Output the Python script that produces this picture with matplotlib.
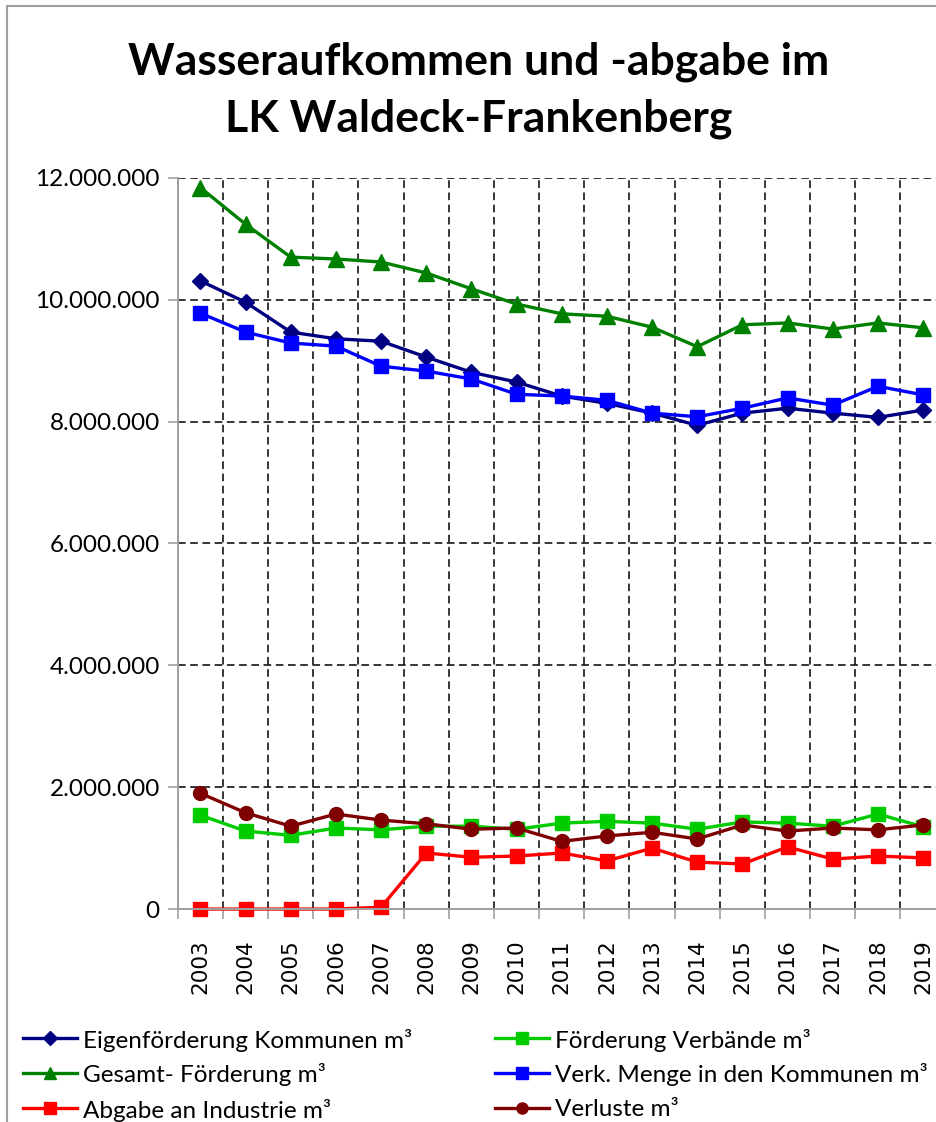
import matplotlib
matplotlib.use("Agg")
import matplotlib.pyplot as plt
import matplotlib.ticker as mticker
from matplotlib.patches import Rectangle
from matplotlib.lines import Line2D

# data (m³)
years = list(range(2003, 2020))
eigen_kommunen = [10.31, 9.96, 9.47, 9.36, 9.32, 9.06, 8.81, 8.65, 8.42, 8.30, 8.14, 7.94, 8.14, 8.22, 8.14, 8.07, 8.19]
foerd_verbaende = [1.54, 1.28, 1.21, 1.33, 1.30, 1.36, 1.36, 1.31, 1.41, 1.44, 1.41, 1.31, 1.43, 1.41, 1.36, 1.56, 1.35]
gesamt = [11.84, 11.24, 10.70, 10.67, 10.62, 10.44, 10.18, 9.93, 9.77, 9.73, 9.55, 9.23, 9.59, 9.62, 9.52, 9.62, 9.54]
verk_menge = [9.78, 9.47, 9.29, 9.24, 8.91, 8.83, 8.70, 8.45, 8.42, 8.35, 8.14, 8.08, 8.22, 8.39, 8.27, 8.58, 8.44]
abgabe_ind = [0.0, 0.0, 0.0, 0.0, 0.03, 0.92, 0.85, 0.87, 0.92, 0.79, 1.00, 0.77, 0.74, 1.02, 0.82, 0.87, 0.84]
verluste = [1.90, 1.58, 1.36, 1.56, 1.46, 1.40, 1.31, 1.33, 1.11, 1.20, 1.26, 1.15, 1.38, 1.28, 1.33, 1.30, 1.38]

labels = ["Eigenförderung Kommunen m³", "Förderung Verbände m³", "Gesamt- Förderung m³",
          "Verk. Menge in den Kommunen m³", "Abgabe an Industrie m³", "Verluste m³"]
colors = ["#000080", "#00CC00", "#008000", "#0000FF", "#FF0000", "#7F0000"]
markers = ["D", "s", "^", "s", "s", "o"]
msizes = [8, 10, 11, 10, 10, 10]
series = [eigen_kommunen, foerd_verbaende, gesamt, verk_menge, abgabe_ind, verluste]

plt.rcParams['font.family'] = ['Lato', 'DejaVu Sans']

W, H = 936, 1122
fig = plt.figure(figsize=(W / 100, H / 100), dpi=100)
ax = fig.add_axes([0.190, 0.1898, 0.8203, 0.6516])

for vals, lab, c, m, ms in zip(series, labels, colors, markers, msizes):
    ax.plot(years, [v * 1e6 for v in vals], color=c, marker=m, markersize=ms,
            linewidth=2.4, label=lab, clip_on=False)

ax.set_xlim(2002.5, 2019.5)
ax.set_ylim(0, 12e6)
ax.set_yticks(range(0, 12000001, 2000000))
ax.yaxis.set_major_formatter(mticker.FuncFormatter(lambda v, p: f"{int(v):,}".replace(",", ".")))
ax.set_xticks(years)
ax.set_xticklabels([str(y) for y in years], rotation=90, fontfamily="DejaVu Sans", fontsize=15.5)
ax.set_xticks([y + 0.5 for y in range(2002, 2019)], minor=True)
ax.tick_params(axis="x", which="major", length=0, pad=22)
ax.tick_params(axis="x", which="minor", length=7, color="#A0A0A0", width=1.2)
ax.tick_params(axis="y", length=7, color="#A0A0A0", width=1.2, labelsize=17.5, pad=6)

ax.grid(True, axis="y", which="major", color="black", linestyle=(0, (5, 3)), linewidth=1.1)
ax.grid(True, axis="x", which="minor", color="black", linestyle=(0, (5, 3)), linewidth=1.1)
ax.set_axisbelow(True)
for s in ["top", "right"]:
    ax.spines[s].set_visible(False)
for s in ["left", "bottom"]:
    ax.spines[s].set_color("#A0A0A0")
    ax.spines[s].set_linewidth(1.4)

fig.text(0.511, 0.920, "Wasseraufkommen und -abgabe im\nLK Waldeck-Frankenberg",
         ha="center", va="center", fontsize=32, fontweight="bold", linespacing=1.5)

# legend drawn by hand: two columns, three rows
leg_msizes = [7, 8, 9, 8, 8, 8]
col_x = [23, 495]
row_y = [1038, 1073, 1108]
for i, (lab, c, m) in enumerate(zip(labels, colors, markers)):
    x0 = col_x[i % 2]
    y = 1 - row_y[i // 2] / H
    fig.lines.append(Line2D([x0 / W, (x0 + 54) / W], [y, y], transform=fig.transFigure,
                            color=c, linewidth=2.4))
    fig.lines.append(Line2D([(x0 + 27) / W], [y], transform=fig.transFigure, color=c,
                            marker=m, markersize=leg_msizes[i], linestyle="none"))
    fig.text((x0 + 60) / W, y, lab, ha="left", va="center_baseline", fontsize=17.5)

fig.patches.append(Rectangle((7 / W, -0.1), 1.2, 1 - 6 / H + 0.1, transform=fig.transFigure,
                             fill=False, edgecolor="#A0A0A0", linewidth=1.5))

fig.savefig("out.png", dpi=100)
